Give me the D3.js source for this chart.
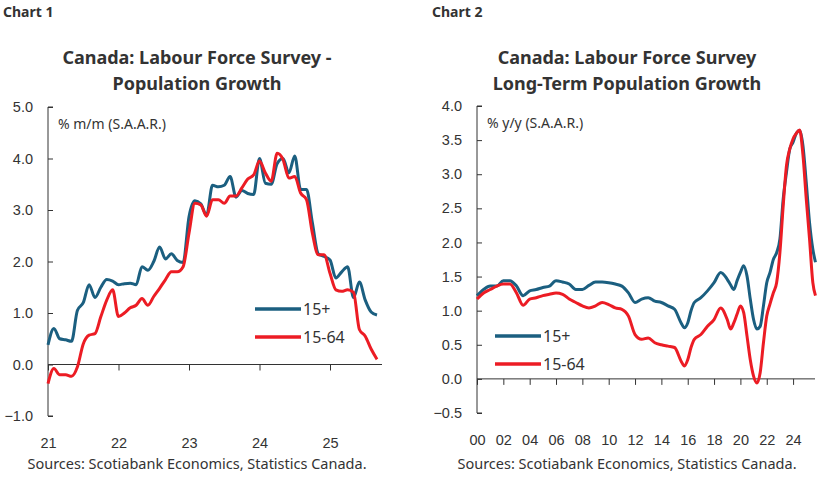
<!DOCTYPE html>
<html><head><meta charset="utf-8">
<script src="https://cdn.jsdelivr.net/npm/d3@7"></script>
<style>
body{margin:0;background:#fff;font-family:"Noto Sans",Lato,sans-serif;}
svg text{fill:#333;}
</style></head>
<body><svg id="c" width="828" height="483"></svg>
<script>
// chart 1: monthly, Jan 2021 .. Sep 2025
const c1Start = 2021;
const c1All = [0.38,0.7,0.5,0.48,0.45,1.05,1.2,1.55,1.3,1.5,1.65,1.62,
  1.55,1.57,1.58,1.55,1.9,1.83,2.0,2.28,2.05,2.15,2.02,1.98,
  2.87,3.18,3.12,2.9,3.48,3.45,3.48,3.65,3.25,3.38,3.32,3.3,
  4.0,3.52,3.5,3.9,4.0,3.72,4.05,3.4,3.4,2.75,2.15,2.1,
  2.03,1.68,1.8,1.9,1.3,1.6,1.25,1.02,0.96];
const c1Core = [-0.37,-0.08,-0.2,-0.2,-0.23,-0.05,0.4,0.57,0.6,0.93,1.25,1.45,
  0.93,1.0,1.1,1.15,1.28,1.15,1.32,1.48,1.65,1.8,1.8,1.9,
  2.55,3.13,3.1,2.88,3.2,3.2,3.13,3.27,3.27,3.43,3.6,3.68,
  3.95,3.72,3.56,4.1,3.98,3.62,3.65,3.33,3.2,2.55,2.13,2.13,
  1.77,1.45,1.42,1.45,1.4,0.68,0.55,0.3,0.1];
const c1Ticks = [21,22,23,24,25];

// chart 2: [year, 15+, 15-64]
const c2Years = [2000,2000.5,2001,2001.5,2002,2002.5,2003,2003.5,2004,2004.5,2005,2005.5,2006,2006.5,2007,2007.5,2008,2008.5,2009,2009.5,2010,2010.5,2011,2011.5,2012,2012.5,2013,2013.5,2014,2014.5,2015,2015.5,2015.75,2016,2016.25,2016.5,2017,2017.5,2018,2018.5,2019,2019.25,2019.5,2019.75,2020,2020.25,2020.5,2020.75,2021,2021.25,2021.5,2021.75,2022,2022.25,2022.5,2022.75,2023,2023.25,2023.5,2023.75,2024,2024.25,2024.5,2024.75,2025,2025.25,2025.5,2025.7];
const c2All = [1.22,1.31,1.36,1.36,1.44,1.44,1.36,1.22,1.29,1.31,1.34,1.36,1.44,1.42,1.39,1.31,1.31,1.37,1.42,1.42,1.41,1.39,1.36,1.26,1.12,1.17,1.19,1.14,1.12,1.07,1.02,0.82,0.75,0.82,1.0,1.12,1.19,1.29,1.41,1.56,1.46,1.38,1.31,1.44,1.56,1.66,1.51,1.17,0.87,0.73,0.77,1.07,1.41,1.56,1.75,1.85,2.05,2.64,3.03,3.37,3.47,3.6,3.64,3.42,2.88,2.29,1.9,1.71];
const c2Core = [1.17,1.26,1.31,1.36,1.39,1.39,1.26,1.08,1.17,1.19,1.22,1.24,1.26,1.24,1.17,1.12,1.07,1.04,1.07,1.12,1.09,1.04,1.02,0.92,0.65,0.58,0.6,0.53,0.5,0.48,0.46,0.26,0.19,0.28,0.46,0.58,0.65,0.77,0.87,1.04,0.87,0.73,0.82,0.95,1.07,0.97,0.63,0.28,0.04,-0.06,0.09,0.53,0.92,1.1,1.26,1.41,1.85,2.54,3.13,3.37,3.52,3.6,3.65,3.28,2.64,2.05,1.41,1.22];
const c2Ticks = [2000,2002,2004,2006,2008,2010,2012,2014,2016,2018,2020,2022,2024];

const BLUE = "#1b5f80", RED = "#ec1c24";
const svg = d3.select("#c");

function panel(o) {
  const g = svg.append("g");
  const x = d3.scaleLinear().domain(o.xd).range([o.x0, o.x1]);
  const y = d3.scaleLinear().domain(o.yd).range([o.y1, o.y0]);
  g.append("text").attr("y", 17).attr("font-weight", "bold")
    .attr("font-size", 14).attr("x", o.lbX).text(o.label);
  o.title.forEach((t, i) => g.append("text").attr("x", o.tx).attr("y", 64 + i * 26)
    .attr("text-anchor", "middle").attr("font-weight", "bold").attr("font-size", 18).text(t));

  const ya = d3.axisLeft(y).tickValues(o.yt).tickSize(-5).tickPadding(15).tickFormat(d3.format(".1f"));
  const ag = g.append("g").attr("transform", `translate(${o.x0},0)`).call(ya);
  ag.select(".domain").attr("d", `M5,${o.y0}H0V${o.y1}H5`);
  ag.selectAll("text").attr("font-size", 14.5).attr("fill", "#444");
  ag.selectAll("line,path").attr("stroke", "#333");

  const xa = d3.axisBottom(x).tickValues(o.xt).tickSize(6).tickFormat(o.xf);
  const xg = g.append("g").attr("transform", `translate(0,${y(0)})`).call(xa);
  xg.select(".domain").attr("d", `M${o.x0},0H${o.x1}`);
  xg.selectAll("line,path").attr("stroke", "#333");
  xg.selectAll("text").attr("font-size", 14.5).attr("fill", "#444")
    .attr("y", o.y1 - y(0) + 22);

  g.append("text").attr("x", o.x0 + 10).attr("y", o.y0 + 22).attr("font-size", 14)
    .attr("fill", "#555").text(o.unit);

  const line = d3.line().x(d => x(d[0])).y(d => y(d[1])).curve(d3.curveMonotoneX);
  [[o.s1, BLUE], [o.s2, RED]].forEach(([s, c]) =>
    g.append("path").datum(s).attr("d", line).attr("fill", "none")
      .attr("stroke", c).attr("stroke-width", 3).attr("stroke-linejoin", "round"));

  [["15+", BLUE], ["15-64", RED]].forEach(([t, c], i) => {
    const ly = o.ly + i * 28;
    g.append("line").attr("x1", o.lx).attr("x2", o.lx + 46).attr("y1", ly).attr("y2", ly)
      .attr("stroke", c).attr("stroke-width", 3.5);
    g.append("text").attr("x", o.lx + 48).attr("y", ly + 6).attr("font-size", 16).text(t);
  });

  g.append("text").attr("x", o.tx).attr("y", 469).attr("text-anchor", "middle")
    .attr("font-size", 14.5).attr("fill", "#444").text("Sources: Scotiabank Economics, Statistics Canada.");
}

panel({
  label: "Chart 1", lbX: 3, tx: 197, title: ["Canada: Labour Force Survey -", "Population Growth"],
  x0: 48, x1: 382, xd: [2021, 2021 + 334 / 70.5], xt: c1Ticks.map(d => 2000 + d), xf: d => String(d - 2000),
  y0: 107, y1: 416, yd: [-1, 5], yt: [-1, 0, 1, 2, 3, 4, 5], unit: "% m/m (S.A.A.R.)",
  s1: c1All.map((v, i) => [c1Start + i / 12, v]), s2: c1Core.map((v, i) => [c1Start + i / 12, v]),
  lx: 255, ly: 309
});
panel({
  label: "Chart 2", lbX: 432, tx: 627, title: ["Canada: Labour Force Survey", "Long-Term Population Growth"],
  x0: 477, x1: 815, xd: [2000, 2000 + 338 / 13.17], xt: c2Ticks, xf: d => String(d).slice(2),
  y0: 106, y1: 413, yd: [-0.5, 4], yt: [-0.5, 0, 0.5, 1, 1.5, 2, 2.5, 3, 3.5, 4], unit: "% y/y (S.A.A.R.)",
  s1: c2Years.map((d, i) => [d, c2All[i]]), s2: c2Years.map((d, i) => [d, c2Core[i]]),
  lx: 495, ly: 336
});
</script></body></html>
